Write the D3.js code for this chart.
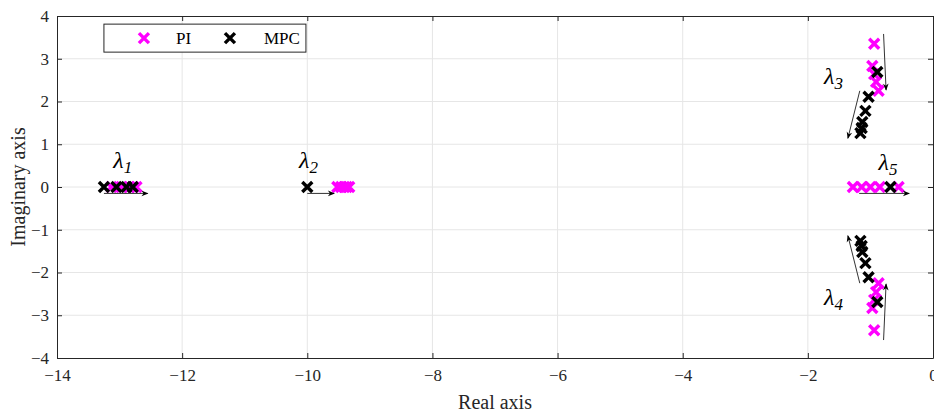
<!DOCTYPE html>
<html>
<head>
<meta charset="utf-8">
<script src="https://cdn.jsdelivr.net/npm/d3@7.9.0/dist/d3.min.js"></script>
<style>
  html, body { margin: 0; padding: 0; background: #fff; }
  svg { display: block; font-family: "Liberation Serif", "Times New Roman", serif; }
</style>
</head>
<body>
<svg id="chart" width="934" height="414"></svg>
<script>
// pole locations [real, imaginary]
const piPoles = [
  [-13.13, 0], [-12.97, 0], [-12.84, 0], [-12.78, 0], [-12.73, 0],
  [-9.52, 0], [-9.46, 0], [-9.41, 0], [-9.37, 0], [-9.33, 0],
  [-0.94, 3.35], [-0.97, 2.83], [-0.94, 2.64], [-0.91, 2.46], [-0.87, 2.25],
  [-0.94, -3.35], [-0.97, -2.83], [-0.94, -2.64], [-0.91, -2.46], [-0.87, -2.25],
  [-1.28, 0], [-1.14, 0], [-1.0, 0], [-0.85, 0], [-0.55, 0]
];
const mpcPoles = [
  [-13.25, 0], [-13.05, 0], [-12.89, 0], [-12.79, 0],
  [-10.0, 0],
  [-0.89, 2.69], [-1.03, 2.11], [-1.08, 1.78], [-1.13, 1.52], [-1.14, 1.38], [-1.16, 1.26],
  [-0.89, -2.69], [-1.03, -2.11], [-1.08, -1.78], [-1.13, -1.52], [-1.14, -1.38], [-1.16, -1.26],
  [-0.68, 0]
];
// arrows showing how the poles move: [re0, im0, re1, im1]
const arrows = [
  [-13.25, -0.15, -12.55, -0.15],
  [-10.0, -0.15, -9.57, -0.15],
  [-1.18, -0.15, -0.38, -0.15],
  [-0.79, 3.58, -0.75, 2.27],
  [-1.17, 2.25, -1.36, 1.14],
  [-0.79, -3.58, -0.75, -2.27],
  [-1.17, -2.25, -1.36, -1.14]
];
// eigenvalue labels [index, re, im]
const eigLabels = [
  ["1", -12.95, 0.45],
  ["2", -9.98, 0.45],
  ["3", -1.59, 2.41],
  ["4", -1.59, -2.76],
  ["5", -0.72, 0.40]
];
const xTicks = [-14, -12, -10, -8, -6, -4, -2, 0];
const yTicks = [-4, -3, -2, -1, 0, 1, 2, 3, 4];
const series = [
  { label: "PI", color: "#ff00ff", poles: piPoles },
  { label: "MPC", color: "#000000", poles: mpcPoles }
];

const svg = d3.select("#chart");
const margin = { left: 57, right: 1, top: 16, bottom: 56 };
const W = 934, H = 414;
const width = W - margin.left - margin.right;
const height = H - margin.top - margin.bottom;

const x = d3.scaleLinear().domain([-14, 0]).range([0, width]);
const y = d3.scaleLinear().domain([-4, 4]).range([height, 0]);

const g = svg.append("g").attr("transform", `translate(${margin.left},${margin.top})`);

// grid
g.append("g").selectAll("line").data(xTicks.slice(1, -1)).join("line")
  .attr("x1", d => x(d)).attr("x2", d => x(d))
  .attr("y1", 0).attr("y2", height)
  .attr("stroke", "#e6e6e6").attr("stroke-width", 1);
g.append("g").selectAll("line").data(yTicks.slice(1, -1)).join("line")
  .attr("y1", d => y(d)).attr("y2", d => y(d))
  .attr("x1", 0).attr("x2", width)
  .attr("stroke", "#e6e6e6").attr("stroke-width", 1);

// axes (ticks point inward, box on all four sides)
const fmt = d3.format("d");
const xAxis = g.append("g").attr("transform", `translate(0,${height})`)
  .call(d3.axisBottom(x).tickValues(xTicks).tickFormat(fmt).tickSizeInner(-5).tickSizeOuter(0).tickPadding(11));
const yAxis = g.append("g")
  .call(d3.axisLeft(y).tickValues(yTicks).tickFormat(fmt).tickSizeInner(-5).tickSizeOuter(0).tickPadding(8));
g.append("g")
  .call(d3.axisTop(x).tickValues(xTicks).tickFormat("").tickSizeInner(-5).tickSizeOuter(0));
g.append("g").attr("transform", `translate(${width},0)`)
  .call(d3.axisRight(y).tickValues(yTicks).tickFormat("").tickSizeInner(-5).tickSizeOuter(0));

g.selectAll(".domain").attr("stroke", "#262626");
g.selectAll(".tick line").attr("stroke", "#262626");
[xAxis, yAxis].forEach(a => a.selectAll("text")
  .attr("font-family", "Liberation Serif, Times New Roman, serif")
  .attr("font-size", 17).attr("fill", "#262626"));

// axis titles
svg.append("text")
  .attr("x", margin.left + width / 2 + 0).attr("y", 409)
  .attr("text-anchor", "middle").attr("font-size", 20).attr("fill", "#262626")
  .text("Real axis");
svg.append("text")
  .attr("transform", `translate(25,${margin.top + height / 2}) rotate(-90)`)
  .attr("text-anchor", "middle").attr("font-size", 20).attr("fill", "#262626")
  .text("Imaginary axis");

// arrowhead
svg.append("defs").append("marker")
  .attr("id", "head").attr("viewBox", "0 0 10 10")
  .attr("refX", 9).attr("refY", 5)
  .attr("markerWidth", 9).attr("markerHeight", 7)
  .attr("markerUnits", "userSpaceOnUse")
  .attr("orient", "auto")
  .append("path").attr("d", "M0,1 L10,5 L0,9 L3,5 Z").attr("fill", "#000");

const cross = "M-5,-5L5,5M5,-5L-5,5";

// poles
series.forEach(s => {
  g.append("g").selectAll("path").data(s.poles).join("path")
    .attr("transform", d => `translate(${x(d[0])},${y(d[1])})`)
    .attr("d", cross)
    .attr("stroke", s.color).attr("stroke-width", 3.4).attr("fill", "none");
});

// arrows
g.append("g").selectAll("line").data(arrows).join("line")
  .attr("x1", d => x(d[0])).attr("y1", d => y(d[1]))
  .attr("x2", d => x(d[2])).attr("y2", d => y(d[3]))
  .attr("stroke", "#333").attr("stroke-width", 1)
  .attr("marker-end", "url(#head)");

// eigenvalue labels
const lab = g.append("g").selectAll("text").data(eigLabels).join("text")
  .attr("x", d => x(d[1])).attr("y", d => y(d[2]))
  .attr("text-anchor", "middle")
  .attr("font-style", "italic").attr("font-size", 24).attr("fill", "#000");
lab.append("tspan").text("λ");
lab.append("tspan").attr("dy", 5).attr("font-size", 17).text(d => d[0]);

// legend
const lg = g.append("g").attr("transform", `translate(${x(-13.25)},${y(3.81)})`);
lg.append("rect").attr("width", 202).attr("height", 28)
  .attr("fill", "#fff").attr("stroke", "#262626").attr("stroke-width", 1);
const legX = [40, 126];
series.forEach((s, i) => {
  lg.append("path").attr("transform", `translate(${legX[i]},14)`)
    .attr("d", cross).attr("stroke", s.color).attr("stroke-width", 3.4).attr("fill", "none");
  lg.append("text").attr("x", legX[i] + (i === 0 ? 32 : 34)).attr("y", 20)
    .attr("font-size", 17).attr("fill", "#000").text(s.label);
});
</script>
</body>
</html>
